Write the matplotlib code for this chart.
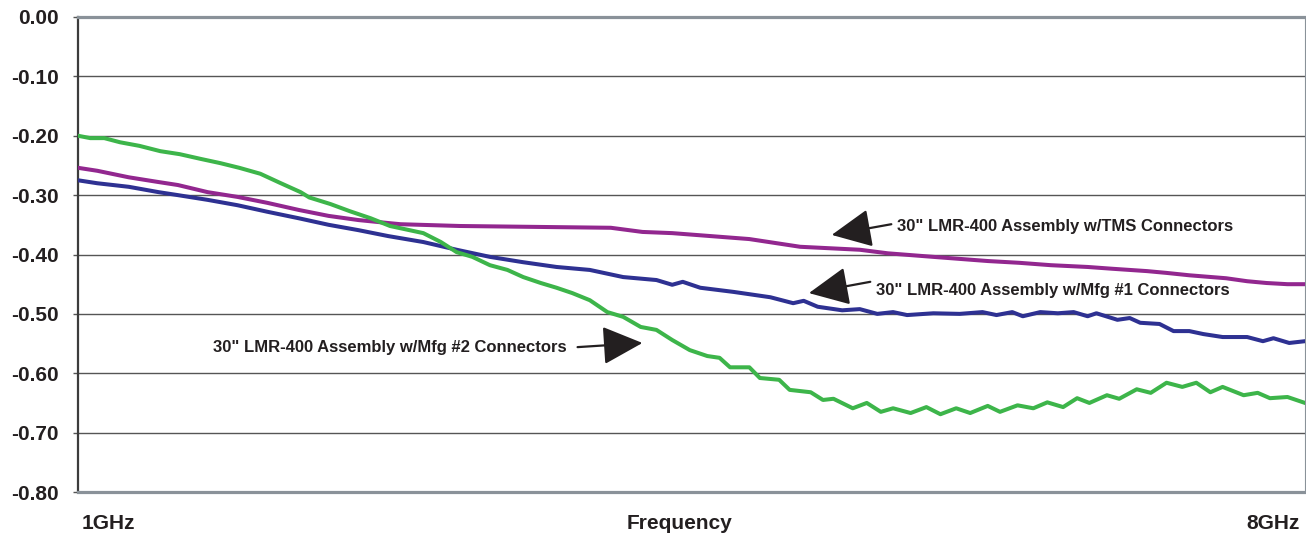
'''
Insertion loss of three 30" LMR-400 cable assemblies, 1 GHz to 8 GHz
'''
import matplotlib.pyplot as plt

plt.rcParams['font.family'] = ['Liberation Sans', 'DejaVu Sans']

# values (GHz, dB)
freq_tms = [1.00, 1.11, 1.29, 1.46, 1.57, 1.74, 1.91, 2.08, 2.26, 2.43, 2.60, 2.77, 2.84, 3.18,
            4.04, 4.22, 4.39, 4.61, 4.83, 5.12, 5.46, 5.62, 5.88, 6.19, 6.37, 6.55, 6.76, 6.90,
            7.10, 7.21, 7.34, 7.55, 7.67, 7.78, 7.90, 8.00]
loss_tms = [-0.254, -0.259, -0.270, -0.278, -0.283, -0.295, -0.303, -0.313, -0.325, -0.335,
            -0.342, -0.347, -0.349, -0.352, -0.355, -0.362, -0.364, -0.369, -0.374, -0.387,
            -0.392, -0.398, -0.404, -0.411, -0.414, -0.418, -0.421, -0.424, -0.428, -0.431,
            -0.435, -0.440, -0.445, -0.448, -0.450, -0.450]

freq_mfg1 = [1.00, 1.11, 1.29, 1.46, 1.57, 1.74, 1.91, 2.08, 2.26, 2.43, 2.60, 2.77, 2.97, 3.16,
             3.35, 3.54, 3.73, 3.92, 4.11, 4.30, 4.39, 4.45, 4.55, 4.74, 4.95, 5.08, 5.14, 5.22,
             5.36, 5.46, 5.56, 5.65, 5.73, 5.88, 6.03, 6.16, 6.24, 6.33, 6.39, 6.49, 6.59, 6.68,
             6.76, 6.81, 6.93, 7.00, 7.06, 7.17, 7.25, 7.34, 7.42, 7.53, 7.67, 7.76, 7.82, 7.91,
             8.00]
loss_mfg1 = [-0.275, -0.280, -0.286, -0.295, -0.300, -0.308, -0.317, -0.328, -0.339, -0.350,
             -0.359, -0.369, -0.379, -0.392, -0.404, -0.413, -0.421, -0.426, -0.438, -0.443,
             -0.451, -0.446, -0.456, -0.463, -0.472, -0.482, -0.478, -0.488, -0.494, -0.492,
             -0.500, -0.497, -0.502, -0.499, -0.500, -0.497, -0.502, -0.497, -0.504, -0.497,
             -0.499, -0.497, -0.504, -0.499, -0.510, -0.507, -0.515, -0.517, -0.529, -0.529,
             -0.534, -0.539, -0.539, -0.546, -0.541, -0.549, -0.546]

freq_mfg2 = [1.00, 1.07, 1.15, 1.24, 1.35, 1.47, 1.58, 1.70, 1.81, 1.92, 2.04, 2.15, 2.27, 2.32,
             2.44, 2.55, 2.67, 2.78, 2.97, 3.07, 3.16, 3.25, 3.35, 3.45, 3.54, 3.64, 3.73, 3.82,
             3.92, 4.02, 4.11, 4.21, 4.30, 4.39, 4.49, 4.59, 4.66, 4.72, 4.83, 4.89, 5.00, 5.06,
             5.18, 5.25, 5.31, 5.42, 5.50, 5.58, 5.65, 5.75, 5.84, 5.92, 6.01, 6.09, 6.19, 6.26,
             6.36, 6.45, 6.53, 6.62, 6.70, 6.77, 6.87, 6.94, 7.04, 7.12, 7.21, 7.30, 7.38, 7.46,
             7.53, 7.65, 7.73, 7.80, 7.90, 8.00]
loss_mfg2 = [-0.200, -0.204, -0.204, -0.211, -0.217, -0.226, -0.231, -0.239, -0.246, -0.254,
             -0.264, -0.279, -0.295, -0.304, -0.315, -0.327, -0.339, -0.352, -0.364, -0.379,
             -0.396, -0.404, -0.418, -0.426, -0.438, -0.448, -0.456, -0.465, -0.477, -0.497,
             -0.505, -0.522, -0.527, -0.544, -0.561, -0.571, -0.574, -0.590, -0.590, -0.608,
             -0.611, -0.628, -0.632, -0.645, -0.643, -0.659, -0.650, -0.665, -0.659, -0.667,
             -0.657, -0.669, -0.659, -0.667, -0.655, -0.665, -0.654, -0.659, -0.649, -0.657,
             -0.642, -0.650, -0.637, -0.643, -0.627, -0.633, -0.616, -0.623, -0.616, -0.632,
             -0.623, -0.637, -0.633, -0.642, -0.640, -0.650]

y_ticks = [0.0, -0.1, -0.2, -0.3, -0.4, -0.5, -0.6, -0.7, -0.8]
y_labels = ['0.00', '-0.10', '-0.20', '-0.30', '-0.40', '-0.50', '-0.60', '-0.70', '-0.80']

label_tms = '30" LMR-400 Assembly w/TMS Connectors'
label_mfg1 = '30" LMR-400 Assembly w/Mfg #1 Connectors'
label_mfg2 = '30" LMR-400 Assembly w/Mfg #2 Connectors'

INK = '#231f20'
EDGE = '#8a9299'

fig = plt.figure(figsize=(13.06, 5.36), dpi=100)
ax = fig.add_axes([78 / 1306, 1 - 492 / 536, 1227 / 1306, 475 / 536])

ax.plot(freq_tms, loss_tms, color='#92278f', lw=2.9, zorder=3)
ax.plot(freq_mfg1, loss_mfg1, color='#2e3192', lw=2.9, zorder=3)
ax.plot(freq_mfg2, loss_mfg2, color='#3db54a', lw=2.9, zorder=3)

ax.set_xlim(1, 8)
ax.set_ylim(-0.8, 0)
ax.set_yticks(y_ticks)
ax.set_yticklabels(y_labels, fontsize=15, fontweight='bold', color=INK)
ax.set_xticks([])
ax.tick_params(axis='y', length=3.6, width=1, color='#555555', pad=10.5)
ax.yaxis.grid(True, color='#555555', lw=1.0)
ax.set_axisbelow(True)

ax.spines['top'].set_color(EDGE)
ax.spines['top'].set_linewidth(2.3)
ax.spines['bottom'].set_color(EDGE)
ax.spines['bottom'].set_linewidth(2.3)
ax.spines['left'].set_color('#3c3c3c')
ax.spines['left'].set_linewidth(1.6)
ax.spines['right'].set_color(EDGE)
ax.spines['right'].set_linewidth(0.8)

# x axis only labelled at the ends
xt = ax.get_xaxis_transform()
ax.text(1.02, -0.077, '1GHz', transform=xt, ha='left', va='baseline',
        fontsize=15, fontweight='bold', color=INK)
ax.text(4.43, -0.077, 'Frequency', transform=xt, ha='center', va='baseline',
        fontsize=15, fontweight='bold', color=INK)
ax.text(7.97, -0.077, '8GHz', transform=xt, ha='right', va='baseline',
        fontsize=15, fontweight='bold', color=INK)

# callouts
arrow = dict(arrowstyle='-|>,head_length=2.5,head_width=1.2', mutation_scale=10,
             color=INK, lw=1.6, shrinkA=0, shrinkB=0)
ax.annotate('', xy=(5.30, -0.367), xytext=(5.64, -0.349), arrowprops=arrow)
ax.annotate('', xy=(5.17, -0.465), xytext=(5.52, -0.446), arrowprops=arrow)
ax.annotate('', xy=(4.22, -0.549), xytext=(3.85, -0.556), arrowprops=arrow)

ax.text(5.67, -0.360, label_tms, ha='left', va='baseline', fontsize=12, fontweight='bold', color=INK)
ax.text(5.55, -0.468, label_mfg1, ha='left', va='baseline', fontsize=12, fontweight='bold', color=INK)
ax.text(3.79, -0.564, label_mfg2, ha='right', va='baseline', fontsize=12, fontweight='bold', color=INK)

fig.savefig('out.png', dpi=100)
